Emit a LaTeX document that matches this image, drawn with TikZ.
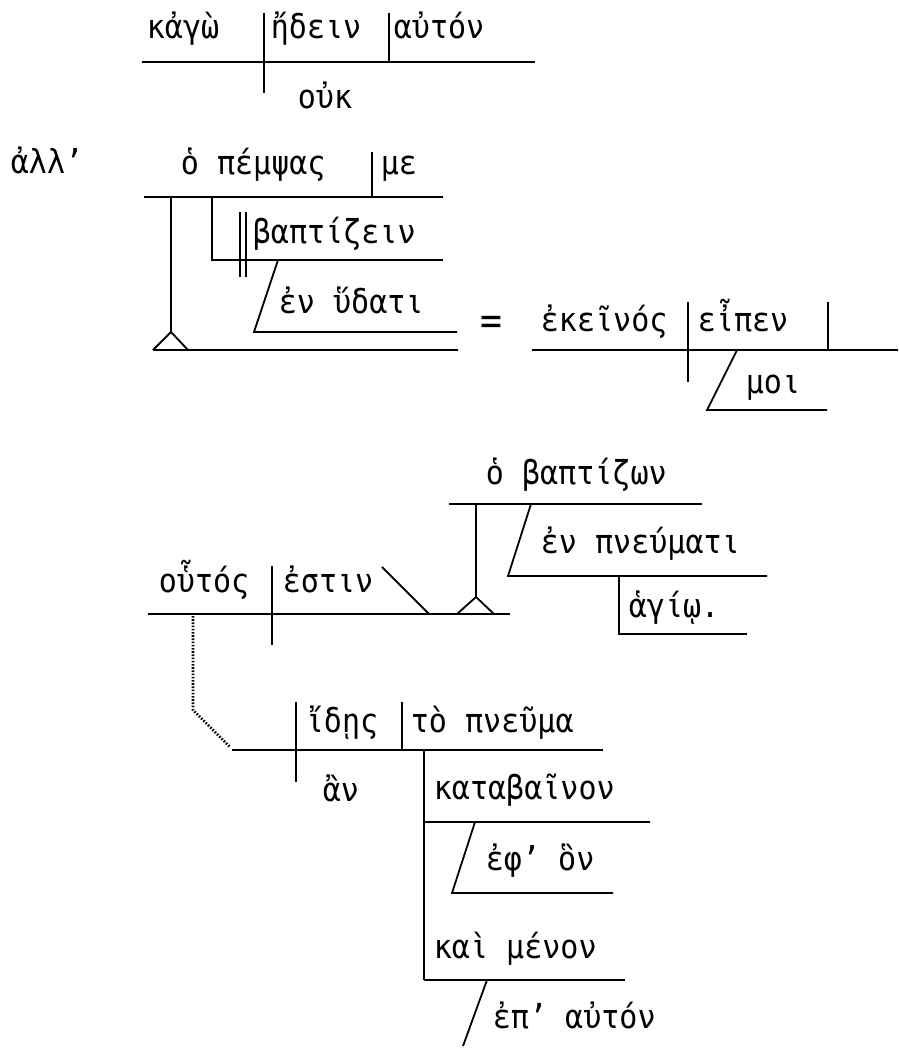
\documentclass[tikz,border=0pt]{standalone}
\usepackage{fontspec}
\setmainfont[FakeStretch=0.91]{DejaVu Sans Mono}
\begin{document}
\begin{tikzpicture}[x=1pt,y=-1pt,line width=1.8pt,
  word/.style={anchor=base west,inner sep=0pt,font=\fontsize{33}{38}\selectfont},
  dotline/.style={line width=2.6pt,dash pattern=on 1.6pt off 1.6pt}]
\useasboundingbox (0,0) rectangle (898,1049);
% ---- clause 1
\draw (142,62) -- (535,62);
\draw (264,13) -- (264,93);
\draw (389,13) -- (389,62);
\node[word] (kago) at (146,38) {κἀγὼ};
\node[word] (edein) at (270,38) {ἤδειν};
\node[word] (auton) at (393,38) {αὐτόν};
\node[word] (ouk) at (297,108) {οὐκ};
% ---- clause 2
\node[word] (all) at (10,173) {ἀλλ’};
\draw (144,197) -- (443,197);
\draw (372,152) -- (372,197);
\node[word] (pempsas) at (180,174) {ὁ πέμψας};
\node[word] (me) at (380,174) {με};
\draw (212,197) -- (212,260) -- (443,260);
\draw (240,212) -- (240,277);
\draw (246,212) -- (246,277);
\node[word] (baptizein) at (252,243) {βαπτίζειν};
\draw (278,260) -- (254,332) -- (457,332);
\node[word] (hydati) at (278,313) {ἐν ὕδατι};
\draw (171,197) -- (171,332);
\draw (153,350) -- (171,332) -- (188,350);
\draw (153,350) -- (458,350);
\node[word,font=\fontsize{40}{40}\selectfont] (eq) at (480,334) {=};
\draw (532,350) -- (898,350);
\draw (688,302) -- (688,382);
\draw (828,302) -- (828,350);
\node[word] (ekeinos) at (540,331) {ἐκεῖνός};
\node[word] (eipen) at (697,331) {εἶπεν};
\draw (737,350) -- (707,410) -- (827,410);
\node[word] (moi) at (745,393) {μοι};
% ---- clause 3
\draw (148,614) -- (510,614);
\draw (272,566) -- (272,645);
\node[word] (houtos) at (158,592) {οὗτός};
\node[word] (estin) at (282,592) {ἐστιν};
\draw (382,567) -- (429,614);
\draw (476,504) -- (476,597);
\draw (457,614) -- (476,597) -- (494,614);
\draw (449,504) -- (702,504);
\node[word] (baptizon) at (485,484) {ὁ βαπτίζων};
\draw (531,504) -- (508,576) -- (767,576);
\node[word] (pneumati) at (540,553) {ἐν πνεύματι};
\draw (619,576) -- (619,634) -- (747,634);
\node[word] (hagio) at (628,617) {ἁγίῳ.};
% ---- clause 4
\draw[dotline] (193,616) -- (193,710) -- (230,747);
\draw (232,750) -- (603,750);
\draw (296,702) -- (296,782);
\draw (402,702) -- (402,750);
\node[word] (ides) at (305,732) {ἴδῃς};
\node[word] (pneuma) at (410,732) {τὸ πνεῦμα};
\node[word] (an) at (322,801) {ἂν};
\draw (424,750) -- (424,980);
\draw (424,822) -- (650,822);
\node[word] (katabainon) at (433,799) {καταβαῖνον};
\draw (475,822) -- (452,893) -- (613,893);
\node[word] (ephhon) at (485,870) {ἐφ’ ὃν};
\draw (424,980) -- (625,980);
\node[word] (menon) at (433,958) {καὶ μένον};
\draw (487,980) -- (463,1046);
\node[word] (epauton) at (492,1028) {ἐπ’ αὐτόν};
\end{tikzpicture}
\end{document}
